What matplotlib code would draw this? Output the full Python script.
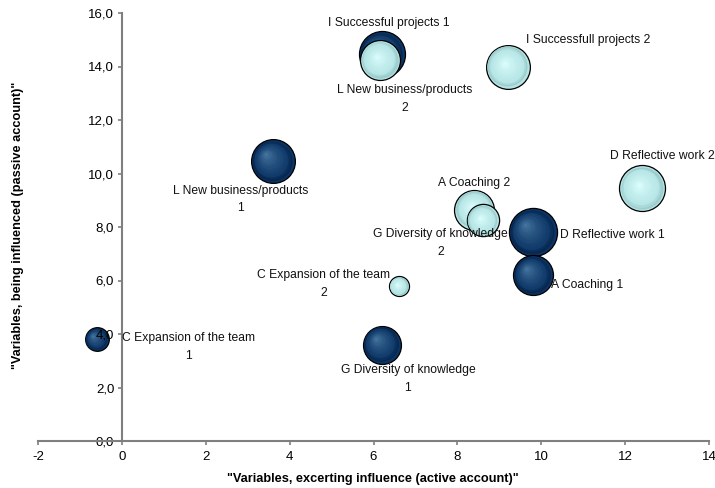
import numpy as np
import matplotlib
matplotlib.use("Agg")
import matplotlib.pyplot as plt
from matplotlib.transforms import ScaledTranslation
from matplotlib.colors import to_rgb
from matplotlib.ticker import FuncFormatter, MultipleLocator

plt.rcParams['font.family'] = ['Liberation Sans', 'DejaVu Sans']

# series 1 (dark) and series 2 (light): active x, passive y, bubble size
labels1 = ["A Coaching 1", "C Expansion of the team\n1", "D Reflective work 1",
           "G Diversity of knowledge\n1", "I Successful projects 1", "L New business/products\n1"]
x1 = [9.8, -0.6, 9.8, 6.2, 6.2, 3.6]
y1 = [6.2, 3.8, 7.8, 3.6, 14.45, 10.45]
size1 = [4.0, 1.4, 5.8, 3.6, 5.3, 4.8]

labels2 = ["A Coaching 2", "C Expansion of the team\n2", "D Reflective work 2",
           "G Diversity of knowledge\n2", "I Successfull projects 2", "L New business/products\n2"]
x2 = [8.4, 6.6, 12.4, 8.6, 9.2, 6.15]
y2 = [8.65, 5.8, 9.45, 8.25, 14.0, 14.25]
size2 = [4.0, 1.0, 5.3, 2.6, 4.8, 4.0]

# label offsets in pixels (right, down) from the bubble centre
offs1 = [(54, 10), (92, 8), (80, 3), (26, 34), (7, -31), (-32, 38)]
offs2 = [(0, -27), (-75, -2), (20, -32), (-42, 23), (80, -27), (25, 39)]

fig = plt.figure(figsize=(7.15, 4.88), dpi=100)
ax = fig.add_axes([38 / 715, 1 - 441 / 488, 671 / 715, 428 / 488])
ax.set_xlim(-2, 14)
ax.set_ylim(0, 16)

SCALE = 207  # points^2 per size unit


def sphere(x, y, s, edge, base, light, shift):
    """shaded bubble built from stacked discs"""
    r = np.sqrt(s) / 2  # radius in points
    ax.scatter([x], [y], s=s, color=base, edgecolor='black', linewidth=0.9, zorder=1)
    n = 14
    e, b, l = np.array(to_rgb(edge)), np.array(to_rgb(base)), np.array(to_rgb(light))
    for i in range(1, n):
        f = 1 - i / n
        t = i / n
        col = b + (l - b) * t ** 1.6 if i > 2 else e + (b - e) * (i / 3)
        dx = -(1 - f) * r * shift
        dy = (1 - f) * r * shift
        tr = ax.transData + ScaledTranslation(dx / 72, dy / 72, fig.dpi_scale_trans)
        ax.scatter([x], [y], s=s * f * f * 0.97, color=col, linewidth=0,
                   transform=tr, zorder=1)


def draw(xs, ys, sizes, edge, base, light, shift):
    for i in np.argsort(sizes)[::-1]:
        sphere(xs[i], ys[i], sizes[i] * SCALE, edge, base, light, shift)


draw(x1, y1, size1, '#062246', '#0c3566', '#4a7aa3', 0.35)
draw(x2, y2, size2, '#93c2c2', '#b4e4e4', '#dfffff', 0.15)

for labs, xs, ys, offs in ((labels1, x1, y1, offs1), (labels2, x2, y2, offs2)):
    for lab, x, y, (dx, dy) in zip(labs, xs, ys, offs):
        ax.annotate(lab, xy=(x, y), xytext=(dx, -dy), textcoords='offset pixels',
                    ha='center', va='center', fontsize=8.7, linespacing=1.65,
                    color='#111111', zorder=3)

for side in ('top', 'right'):
    ax.spines[side].set_visible(False)
ax.spines['left'].set_position(('data', 0))
ax.spines['bottom'].set_position(('data', 0))
for side in ('left', 'bottom'):
    ax.spines[side].set_color('#7f7f7f')
    ax.spines[side].set_linewidth(1.5)

ax.xaxis.set_major_locator(MultipleLocator(2))
ax.yaxis.set_major_locator(MultipleLocator(2))
ax.xaxis.set_major_formatter(FuncFormatter(lambda v, p: f"{v:g}".replace('\u2212', '-')))
ax.yaxis.set_major_formatter(FuncFormatter(lambda v, p: f"{v:.1f}".replace('.', ',')))
ax.tick_params(axis='both', colors='#7f7f7f', labelcolor='black', labelsize=9.5,
               length=3, width=1.2, direction='out', pad=2.5)
ax.tick_params(axis='x', pad=4)

fig.text(373 / 715, 1 - 479 / 488, '"Variables, excerting influence (active account)"',
         ha='center', va='center', fontsize=9.2, fontweight='bold')
fig.text(18 / 715, 1 - 225 / 488, '"Variables, being influenced (passive account)"',
         ha='center', va='center', rotation=90, fontsize=9.2, fontweight='bold')

fig.savefig('out.png', dpi=100)
